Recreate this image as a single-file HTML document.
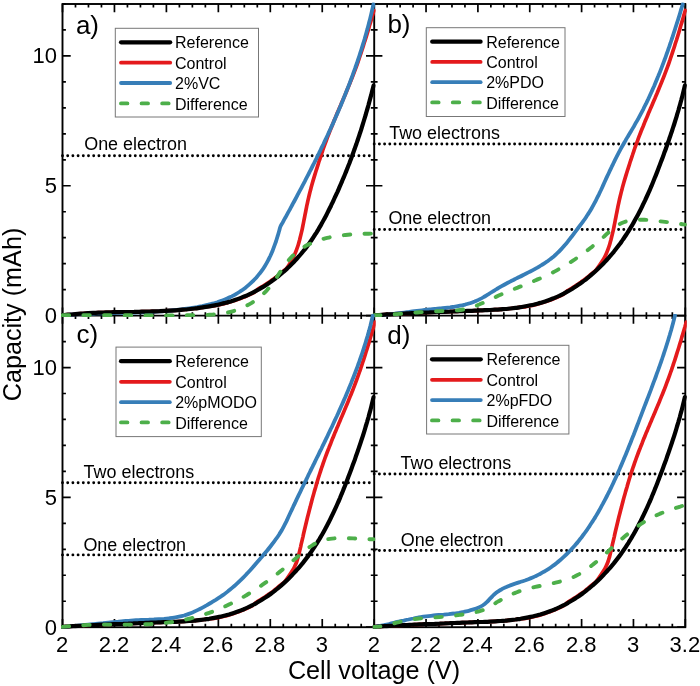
<!DOCTYPE html>
<html><head><meta charset="utf-8"><title>Capacity vs cell voltage</title>
<style>html,body{margin:0;padding:0;background:#fff}svg{display:block;will-change:transform}text{font-family:"Liberation Sans",sans-serif;fill:#000}</style></head><body>
<svg width="700" height="686" viewBox="0 0 700 686">
<rect width="700" height="686" fill="#fff"/>
<defs>
<clipPath id="cpa"><rect x="61.0" y="2.5" width="314.7" height="314.6"/></clipPath>
<clipPath id="cpb"><rect x="372.7" y="2.5" width="314.1" height="314.6"/></clipPath>
<clipPath id="cpc"><rect x="61.0" y="314.1" width="314.7" height="314.6"/></clipPath>
<clipPath id="cpd"><rect x="372.7" y="314.1" width="314.1" height="314.6"/></clipPath>
</defs>
<g stroke="#000" stroke-width="1.9" fill="none" stroke-linecap="square">
<rect x="62.5" y="4.0" width="622.8" height="623.2"/>
<path d="M374.2 4.0V627.2M62.5 315.6H685.3"/>
</g>
<path d="M62.50 4.00v8.20M62.50 315.60v-8.20M75.49 4.00v3.40M75.49 315.60v-3.40M88.47 4.00v3.40M88.47 315.60v-3.40M101.46 4.00v3.40M101.46 315.60v-3.40M114.45 4.00v8.20M114.45 315.60v-8.20M127.44 4.00v3.40M127.44 315.60v-3.40M140.43 4.00v3.40M140.43 315.60v-3.40M153.41 4.00v3.40M153.41 315.60v-3.40M166.40 4.00v8.20M166.40 315.60v-8.20M179.39 4.00v3.40M179.39 315.60v-3.40M192.38 4.00v3.40M192.38 315.60v-3.40M205.36 4.00v3.40M205.36 315.60v-3.40M218.35 4.00v8.20M218.35 315.60v-8.20M231.34 4.00v3.40M231.34 315.60v-3.40M244.32 4.00v3.40M244.32 315.60v-3.40M257.31 4.00v3.40M257.31 315.60v-3.40M270.30 4.00v8.20M270.30 315.60v-8.20M283.29 4.00v3.40M283.29 315.60v-3.40M296.27 4.00v3.40M296.27 315.60v-3.40M309.26 4.00v3.40M309.26 315.60v-3.40M322.25 4.00v8.20M322.25 315.60v-8.20M335.24 4.00v3.40M335.24 315.60v-3.40M348.22 4.00v3.40M348.22 315.60v-3.40M361.21 4.00v3.40M361.21 315.60v-3.40M374.20 4.00v8.20M374.20 315.60v-8.20M62.50 315.60h8.20M374.20 315.60h-8.20M62.50 289.63h3.40M374.20 289.63h-3.40M62.50 263.67h3.40M374.20 263.67h-3.40M62.50 237.70h3.40M374.20 237.70h-3.40M62.50 211.73h3.40M374.20 211.73h-3.40M62.50 185.77h8.20M374.20 185.77h-8.20M62.50 159.80h3.40M374.20 159.80h-3.40M62.50 133.83h3.40M374.20 133.83h-3.40M62.50 107.87h3.40M374.20 107.87h-3.40M62.50 81.90h3.40M374.20 81.90h-3.40M62.50 55.93h8.20M374.20 55.93h-8.20M62.50 29.97h3.40M374.20 29.97h-3.40M62.50 4.00h3.40M374.20 4.00h-3.40M374.20 4.00v8.20M374.20 315.60v-8.20M387.16 4.00v3.40M387.16 315.60v-3.40M400.12 4.00v3.40M400.12 315.60v-3.40M413.09 4.00v3.40M413.09 315.60v-3.40M426.05 4.00v8.20M426.05 315.60v-8.20M439.01 4.00v3.40M439.01 315.60v-3.40M451.97 4.00v3.40M451.97 315.60v-3.40M464.94 4.00v3.40M464.94 315.60v-3.40M477.90 4.00v8.20M477.90 315.60v-8.20M490.86 4.00v3.40M490.86 315.60v-3.40M503.82 4.00v3.40M503.82 315.60v-3.40M516.79 4.00v3.40M516.79 315.60v-3.40M529.75 4.00v8.20M529.75 315.60v-8.20M542.71 4.00v3.40M542.71 315.60v-3.40M555.67 4.00v3.40M555.67 315.60v-3.40M568.64 4.00v3.40M568.64 315.60v-3.40M581.60 4.00v8.20M581.60 315.60v-8.20M594.56 4.00v3.40M594.56 315.60v-3.40M607.52 4.00v3.40M607.52 315.60v-3.40M620.49 4.00v3.40M620.49 315.60v-3.40M633.45 4.00v8.20M633.45 315.60v-8.20M646.41 4.00v3.40M646.41 315.60v-3.40M659.38 4.00v3.40M659.38 315.60v-3.40M672.34 4.00v3.40M672.34 315.60v-3.40M685.30 4.00v8.20M685.30 315.60v-8.20M374.20 315.60h8.20M685.30 315.60h-8.20M374.20 289.63h3.40M685.30 289.63h-3.40M374.20 263.67h3.40M685.30 263.67h-3.40M374.20 237.70h3.40M685.30 237.70h-3.40M374.20 211.73h3.40M685.30 211.73h-3.40M374.20 185.77h8.20M685.30 185.77h-8.20M374.20 159.80h3.40M685.30 159.80h-3.40M374.20 133.83h3.40M685.30 133.83h-3.40M374.20 107.87h3.40M685.30 107.87h-3.40M374.20 81.90h3.40M685.30 81.90h-3.40M374.20 55.93h8.20M685.30 55.93h-8.20M374.20 29.97h3.40M685.30 29.97h-3.40M374.20 4.00h3.40M685.30 4.00h-3.40M62.50 315.60v8.20M62.50 627.20v-8.20M75.49 315.60v3.40M75.49 627.20v-3.40M88.47 315.60v3.40M88.47 627.20v-3.40M101.46 315.60v3.40M101.46 627.20v-3.40M114.45 315.60v8.20M114.45 627.20v-8.20M127.44 315.60v3.40M127.44 627.20v-3.40M140.43 315.60v3.40M140.43 627.20v-3.40M153.41 315.60v3.40M153.41 627.20v-3.40M166.40 315.60v8.20M166.40 627.20v-8.20M179.39 315.60v3.40M179.39 627.20v-3.40M192.38 315.60v3.40M192.38 627.20v-3.40M205.36 315.60v3.40M205.36 627.20v-3.40M218.35 315.60v8.20M218.35 627.20v-8.20M231.34 315.60v3.40M231.34 627.20v-3.40M244.32 315.60v3.40M244.32 627.20v-3.40M257.31 315.60v3.40M257.31 627.20v-3.40M270.30 315.60v8.20M270.30 627.20v-8.20M283.29 315.60v3.40M283.29 627.20v-3.40M296.27 315.60v3.40M296.27 627.20v-3.40M309.26 315.60v3.40M309.26 627.20v-3.40M322.25 315.60v8.20M322.25 627.20v-8.20M335.24 315.60v3.40M335.24 627.20v-3.40M348.22 315.60v3.40M348.22 627.20v-3.40M361.21 315.60v3.40M361.21 627.20v-3.40M374.20 315.60v8.20M374.20 627.20v-8.20M62.50 627.20h8.20M374.20 627.20h-8.20M62.50 601.23h3.40M374.20 601.23h-3.40M62.50 575.27h3.40M374.20 575.27h-3.40M62.50 549.30h3.40M374.20 549.30h-3.40M62.50 523.33h3.40M374.20 523.33h-3.40M62.50 497.37h8.20M374.20 497.37h-8.20M62.50 471.40h3.40M374.20 471.40h-3.40M62.50 445.43h3.40M374.20 445.43h-3.40M62.50 419.47h3.40M374.20 419.47h-3.40M62.50 393.50h3.40M374.20 393.50h-3.40M62.50 367.53h8.20M374.20 367.53h-8.20M62.50 341.57h3.40M374.20 341.57h-3.40M62.50 315.60h3.40M374.20 315.60h-3.40M374.20 315.60v8.20M374.20 627.20v-8.20M387.16 315.60v3.40M387.16 627.20v-3.40M400.12 315.60v3.40M400.12 627.20v-3.40M413.09 315.60v3.40M413.09 627.20v-3.40M426.05 315.60v8.20M426.05 627.20v-8.20M439.01 315.60v3.40M439.01 627.20v-3.40M451.97 315.60v3.40M451.97 627.20v-3.40M464.94 315.60v3.40M464.94 627.20v-3.40M477.90 315.60v8.20M477.90 627.20v-8.20M490.86 315.60v3.40M490.86 627.20v-3.40M503.82 315.60v3.40M503.82 627.20v-3.40M516.79 315.60v3.40M516.79 627.20v-3.40M529.75 315.60v8.20M529.75 627.20v-8.20M542.71 315.60v3.40M542.71 627.20v-3.40M555.67 315.60v3.40M555.67 627.20v-3.40M568.64 315.60v3.40M568.64 627.20v-3.40M581.60 315.60v8.20M581.60 627.20v-8.20M594.56 315.60v3.40M594.56 627.20v-3.40M607.52 315.60v3.40M607.52 627.20v-3.40M620.49 315.60v3.40M620.49 627.20v-3.40M633.45 315.60v8.20M633.45 627.20v-8.20M646.41 315.60v3.40M646.41 627.20v-3.40M659.38 315.60v3.40M659.38 627.20v-3.40M672.34 315.60v3.40M672.34 627.20v-3.40M685.30 315.60v8.20M685.30 627.20v-8.20M374.20 627.20h8.20M685.30 627.20h-8.20M374.20 601.23h3.40M685.30 601.23h-3.40M374.20 575.27h3.40M685.30 575.27h-3.40M374.20 549.30h3.40M685.30 549.30h-3.40M374.20 523.33h3.40M685.30 523.33h-3.40M374.20 497.37h8.20M685.30 497.37h-8.20M374.20 471.40h3.40M685.30 471.40h-3.40M374.20 445.43h3.40M685.30 445.43h-3.40M374.20 419.47h3.40M685.30 419.47h-3.40M374.20 393.50h3.40M685.30 393.50h-3.40M374.20 367.53h8.20M685.30 367.53h-8.20M374.20 341.57h3.40M685.30 341.57h-3.40M374.20 315.60h3.40M685.30 315.60h-3.40" stroke="#000" stroke-width="1.7" fill="none"/>
<path d="M62.5 155.7H370.7" stroke="#000" stroke-width="2.9" stroke-linecap="round" stroke-dasharray="0 5.2" fill="none"/>
<path d="M374.2 144.0H681.8" stroke="#000" stroke-width="2.9" stroke-linecap="round" stroke-dasharray="0 5.2" fill="none"/>
<path d="M374.2 229.5H681.8" stroke="#000" stroke-width="2.9" stroke-linecap="round" stroke-dasharray="0 5.2" fill="none"/>
<path d="M62.5 482.7H370.7" stroke="#000" stroke-width="2.9" stroke-linecap="round" stroke-dasharray="0 5.2" fill="none"/>
<path d="M62.5 554.9H370.7" stroke="#000" stroke-width="2.9" stroke-linecap="round" stroke-dasharray="0 5.2" fill="none"/>
<path d="M374.2 474.0H681.8" stroke="#000" stroke-width="2.9" stroke-linecap="round" stroke-dasharray="0 5.2" fill="none"/>
<path d="M374.2 550.5H681.8" stroke="#000" stroke-width="2.9" stroke-linecap="round" stroke-dasharray="0 5.2" fill="none"/>
<g clip-path="url(#cpa)" fill="none" stroke-linejoin="round" stroke-linecap="round">
<path d="M62.7 315.3C63.5 315.2 66.1 314.9 67.8 314.7C69.4 314.6 71.1 314.4 72.8 314.3C74.5 314.1 76.2 314.0 77.9 313.8C79.6 313.7 81.3 313.6 83.0 313.5C84.7 313.4 86.4 313.3 88.1 313.2C89.8 313.1 91.5 313.0 93.2 312.9C94.9 312.8 96.6 312.8 98.3 312.7C100.0 312.6 101.7 312.6 103.4 312.5C105.1 312.5 106.8 312.4 108.5 312.4C110.2 312.3 111.9 312.3 113.6 312.2C115.3 312.2 117.0 312.2 118.7 312.1C120.4 312.1 122.1 312.1 123.9 312.0C125.6 312.0 127.3 312.0 129.0 312.0C130.7 311.9 132.4 311.9 134.1 311.9C135.8 311.8 137.5 311.8 139.2 311.8C141.0 311.7 142.7 311.7 144.4 311.6C146.1 311.6 147.8 311.6 149.5 311.5C151.2 311.5 152.9 311.4 154.6 311.4C156.3 311.3 158.0 311.2 159.7 311.2C161.5 311.1 163.2 311.0 164.9 310.9C166.6 310.8 168.3 310.7 170.0 310.6C171.7 310.5 173.4 310.4 175.1 310.3C176.8 310.2 178.5 310.1 180.2 309.9C181.9 309.8 183.6 309.6 185.3 309.5C187.0 309.3 188.7 309.2 190.4 309.0C192.1 308.8 193.8 308.6 195.5 308.4C197.2 308.2 198.9 307.9 200.6 307.7C202.3 307.5 204.0 307.2 205.7 306.9C207.3 306.7 209.0 306.3 210.7 306.1C212.4 305.8 214.1 305.8 215.8 305.5C217.4 305.3 219.1 304.8 220.8 304.5C222.4 304.1 224.1 303.7 225.7 303.2C227.4 302.8 229.0 302.3 230.7 301.8C232.3 301.4 233.9 300.8 235.5 300.3C237.1 299.8 238.7 299.2 240.3 298.6C241.9 298.0 243.5 297.3 245.0 296.7C246.6 296.0 248.1 295.3 249.7 294.6C251.2 293.9 252.7 293.3 254.2 292.4C255.7 291.4 257.2 289.7 258.7 288.6C260.1 287.6 261.6 286.9 263.1 286.1C264.5 285.2 265.9 284.3 267.3 283.3C268.8 282.4 270.2 281.4 271.5 280.4C272.9 279.5 274.3 278.5 275.6 277.4C277.0 276.4 278.3 275.3 279.6 274.3C281.0 273.2 282.3 272.1 283.5 271.0C284.8 269.8 285.9 269.5 287.3 267.5C288.8 265.6 291.1 261.3 292.3 259.1C293.5 256.9 293.9 256.1 294.6 254.5C295.3 252.9 295.9 251.4 296.5 249.8C297.1 248.2 297.7 246.6 298.2 245.0C298.7 243.3 299.1 241.7 299.6 240.0C300.0 238.4 300.4 236.7 300.8 235.1C301.2 233.4 301.6 231.8 302.0 230.1C302.4 228.4 302.7 226.7 303.0 225.1C303.4 223.4 303.7 221.7 304.0 220.0C304.4 218.3 304.7 216.6 305.0 214.9C305.4 213.2 305.7 211.6 306.0 209.9C306.3 208.2 306.7 206.5 307.0 204.8C307.4 203.1 307.7 201.5 308.1 199.8C308.5 198.1 308.9 196.4 309.3 194.8C309.7 193.1 310.1 191.4 310.6 189.8C311.0 188.1 311.4 186.5 311.9 184.8C312.4 183.2 312.8 181.5 313.3 179.9C313.8 178.2 314.3 176.6 314.8 174.9C315.3 173.3 315.8 171.7 316.3 170.0C316.8 168.4 317.4 166.7 317.9 165.1C318.4 163.5 318.9 161.8 319.5 160.2C320.0 158.6 320.5 157.0 321.1 155.3C321.6 153.7 322.2 152.1 322.7 150.4C323.3 148.8 323.8 147.2 324.4 145.6C325.0 144.0 325.6 142.4 326.2 140.8C326.8 139.1 327.4 137.5 328.0 135.9C328.6 134.3 329.2 132.7 329.8 131.2C330.5 129.6 331.1 128.0 331.8 126.4C332.4 124.8 333.1 123.2 333.7 121.6C334.4 120.0 335.0 118.5 335.7 116.9C336.4 115.3 337.0 113.7 337.7 112.1C338.4 110.6 339.0 109.0 339.7 107.4C340.4 105.8 341.1 104.2 341.7 102.7C342.4 101.1 343.1 99.5 343.8 97.9C344.4 96.4 345.1 94.8 345.8 93.2C346.4 91.6 347.1 90.0 347.7 88.5C348.4 86.9 349.1 85.3 349.7 83.7C350.4 82.1 351.0 80.5 351.6 78.9C352.3 77.3 352.9 75.7 353.5 74.1C354.1 72.5 354.7 70.9 355.3 69.3C355.9 67.7 356.5 66.1 357.1 64.5C357.7 62.9 358.2 61.3 358.8 59.6C359.3 58.0 359.9 56.4 360.4 54.8C361.0 53.1 361.5 51.5 362.0 49.9C362.6 48.3 363.1 46.6 363.6 45.0C364.1 43.4 364.6 41.7 365.2 40.1C365.7 38.4 366.2 36.8 366.7 35.2C367.2 33.5 367.7 31.9 368.2 30.2C368.7 28.6 369.1 26.9 369.6 25.3C370.1 23.7 370.6 22.0 371.1 20.4C371.6 18.7 372.1 17.1 372.5 15.4C373.0 13.8 373.8 11.3 374.0 10.5" stroke="#e41a1c" stroke-width="3.7"/>
<path d="M62.7 315.3C63.6 315.2 66.2 315.0 67.9 314.9C69.6 314.7 71.3 314.6 73.1 314.5C74.8 314.4 76.5 314.3 78.2 314.2C80.0 314.1 81.7 314.0 83.4 313.9C85.1 313.8 86.9 313.8 88.6 313.7C90.3 313.6 92.0 313.6 93.8 313.5C95.5 313.5 97.2 313.4 99.0 313.4C100.7 313.3 102.4 313.3 104.1 313.2C105.9 313.2 107.6 313.1 109.3 313.1C111.0 313.1 112.8 313.0 114.5 313.0C116.2 313.0 117.9 312.9 119.7 312.9C121.4 312.9 123.1 312.8 124.8 312.8C126.6 312.8 128.3 312.7 130.0 312.7C131.7 312.6 133.5 312.6 135.2 312.5C136.9 312.5 138.6 312.4 140.4 312.4C142.1 312.3 143.8 312.3 145.5 312.2C147.3 312.1 149.0 312.1 150.7 312.0C152.4 311.9 154.1 311.8 155.9 311.7C157.6 311.6 159.3 311.5 161.0 311.4C162.8 311.3 164.5 311.1 166.2 311.0C167.9 310.8 169.6 310.7 171.4 310.5C173.1 310.4 174.8 310.2 176.5 310.0C178.2 309.8 180.0 309.6 181.7 309.4C183.4 309.2 185.1 309.0 186.8 308.7C188.5 308.5 190.3 308.2 192.0 307.9C193.7 307.7 195.4 307.4 197.1 307.1C198.8 306.7 200.5 306.4 202.2 306.1C204.0 305.7 205.7 305.3 207.4 304.9C209.0 304.5 210.7 304.1 212.4 303.6C214.1 303.2 215.7 302.7 217.4 302.2C219.0 301.6 220.7 301.1 222.3 300.5C223.9 299.9 225.5 299.2 227.1 298.5C228.7 297.9 230.2 297.1 231.7 296.4C233.3 295.6 234.8 294.8 236.3 293.9C237.7 293.1 239.2 292.1 240.6 291.2C242.1 290.2 243.5 289.2 244.8 288.2C246.2 287.1 247.5 286.1 248.8 284.9C250.1 283.8 251.4 282.6 252.6 281.4C253.8 280.2 255.0 279.0 256.2 277.7C257.3 276.4 258.4 275.1 259.5 273.7C260.6 272.4 261.6 271.0 262.6 269.6C263.6 268.2 264.5 266.7 265.4 265.2C266.3 263.8 267.2 262.2 268.0 260.7C268.8 259.2 269.5 257.6 270.3 256.0C271.0 254.5 271.7 252.9 272.4 251.3C273.0 249.6 273.6 248.0 274.2 246.4C274.8 244.8 275.4 243.1 276.0 241.5C276.5 239.8 277.0 238.1 277.5 236.5C278.1 234.8 278.5 233.2 279.0 231.5C279.5 229.9 279.8 228.2 280.4 226.6C281.0 225.0 282.1 223.6 282.9 222.1C283.7 220.6 284.5 219.1 285.4 217.6C286.2 216.1 287.0 214.6 287.8 213.1C288.6 211.6 289.5 210.1 290.3 208.6C291.1 207.1 291.9 205.5 292.7 204.0C293.6 202.5 294.4 201.0 295.2 199.5C296.0 198.0 296.8 196.5 297.6 194.9C298.4 193.4 299.2 191.9 300.0 190.4C300.8 188.9 301.6 187.4 302.4 185.8C303.2 184.3 304.0 182.8 304.8 181.3C305.6 179.7 306.4 178.2 307.2 176.7C308.0 175.2 308.8 173.6 309.5 172.1C310.3 170.6 311.1 169.0 311.9 167.5C312.7 166.0 313.4 164.4 314.2 162.9C315.0 161.3 315.7 159.8 316.5 158.3C317.3 156.7 318.0 155.2 318.8 153.6C319.5 152.1 320.3 150.5 321.0 149.0C321.8 147.4 322.5 145.9 323.3 144.3C324.0 142.8 324.7 141.2 325.5 139.7C326.2 138.1 326.9 136.6 327.7 135.0C328.4 133.5 329.1 131.9 329.8 130.3C330.5 128.8 331.3 127.2 332.0 125.6C332.7 124.1 333.4 122.5 334.1 120.9C334.8 119.4 335.5 117.8 336.1 116.2C336.8 114.6 337.5 113.1 338.2 111.5C338.9 109.9 339.5 108.3 340.2 106.7C340.9 105.2 341.5 103.6 342.2 102.0C342.8 100.4 343.5 98.8 344.1 97.2C344.8 95.6 345.4 94.0 346.0 92.4C346.7 90.9 347.3 89.3 347.9 87.7C348.6 86.1 349.2 84.5 349.8 82.9C350.4 81.2 351.0 79.6 351.6 78.0C352.2 76.4 352.8 74.8 353.3 73.2C353.9 71.6 354.5 70.0 355.1 68.4C355.6 66.7 356.2 65.1 356.8 63.5C357.3 61.9 357.9 60.2 358.4 58.6C359.0 57.0 359.5 55.4 360.0 53.7C360.5 52.1 361.1 50.5 361.6 48.8C362.1 47.2 362.6 45.6 363.1 43.9C363.6 42.3 364.1 40.6 364.6 39.0C365.0 37.3 365.5 35.7 366.0 34.0C366.5 32.4 366.9 30.7 367.4 29.1C367.8 27.4 368.3 25.7 368.7 24.1C369.1 22.4 369.6 20.8 370.0 19.1C370.4 17.4 370.8 15.7 371.2 14.1C371.6 12.4 372.0 10.7 372.4 9.0C372.8 7.4 373.3 4.8 373.5 4.0" stroke="#377eb8" stroke-width="3.8"/>
<path d="M62.7 315.3C63.5 315.2 66.1 314.9 67.8 314.7C69.4 314.6 71.1 314.4 72.8 314.3C74.5 314.1 76.2 314.0 77.9 313.8C79.6 313.7 81.3 313.6 83.0 313.5C84.7 313.4 86.4 313.3 88.1 313.2C89.8 313.1 91.5 313.0 93.2 312.9C94.9 312.8 96.6 312.8 98.3 312.7C100.0 312.6 101.7 312.6 103.4 312.5C105.1 312.5 106.8 312.4 108.5 312.4C110.2 312.3 111.9 312.3 113.6 312.2C115.3 312.2 117.0 312.2 118.7 312.1C120.4 312.1 122.1 312.1 123.9 312.0C125.6 312.0 127.3 312.0 129.0 312.0C130.7 311.9 132.4 311.9 134.1 311.9C135.8 311.8 137.5 311.8 139.2 311.8C141.0 311.7 142.7 311.7 144.4 311.6C146.1 311.6 147.8 311.6 149.5 311.5C151.2 311.5 152.9 311.4 154.6 311.4C156.3 311.3 158.0 311.2 159.7 311.2C161.5 311.1 163.2 311.0 164.9 310.9C166.6 310.8 168.3 310.7 170.0 310.6C171.7 310.5 173.4 310.4 175.1 310.3C176.8 310.2 178.5 310.1 180.2 309.9C181.9 309.8 183.6 309.6 185.3 309.5C187.0 309.3 188.7 309.2 190.4 309.0C192.1 308.8 193.8 308.6 195.5 308.4C197.2 308.2 198.9 307.9 200.6 307.7C202.3 307.5 204.0 307.2 205.7 306.9C207.3 306.7 209.0 306.4 210.7 306.1C212.4 305.8 214.1 305.4 215.8 305.1C217.4 304.8 219.1 304.4 220.8 304.0C222.4 303.6 224.1 303.2 225.7 302.8C227.4 302.3 229.0 301.9 230.7 301.4C232.3 300.9 233.9 300.4 235.5 299.8C237.1 299.3 238.7 298.7 240.3 298.1C241.9 297.5 243.5 296.9 245.0 296.2C246.6 295.6 248.1 294.9 249.7 294.1C251.2 293.4 252.7 292.7 254.2 291.9C255.7 291.1 257.2 290.3 258.7 289.5C260.1 288.7 261.6 287.8 263.1 286.9C264.5 286.0 265.9 285.1 267.3 284.2C268.8 283.2 270.2 282.3 271.5 281.3C272.9 280.3 274.3 279.3 275.6 278.3C277.0 277.2 278.3 276.2 279.6 275.1C281.0 274.0 282.3 272.9 283.5 271.8C284.8 270.7 286.1 269.6 287.3 268.4C288.6 267.2 289.8 266.1 291.0 264.8C292.2 263.6 293.4 262.4 294.6 261.2C295.8 259.9 296.9 258.7 298.0 257.4C299.2 256.1 300.3 254.8 301.4 253.5C302.5 252.2 303.5 250.9 304.6 249.6C305.7 248.2 306.7 246.9 307.7 245.5C308.7 244.1 309.7 242.7 310.7 241.3C311.6 239.9 312.6 238.5 313.5 237.1C314.5 235.7 315.4 234.2 316.3 232.8C317.2 231.3 318.1 229.9 318.9 228.4C319.8 226.9 320.7 225.4 321.5 223.9C322.3 222.5 323.2 221.0 324.0 219.4C324.8 217.9 325.6 216.4 326.4 214.9C327.2 213.4 327.9 211.9 328.7 210.3C329.5 208.8 330.2 207.3 331.0 205.7C331.7 204.2 332.5 202.6 333.2 201.1C333.9 199.5 334.6 198.0 335.3 196.4C336.1 194.9 336.8 193.3 337.5 191.8C338.2 190.2 338.9 188.6 339.5 187.1C340.2 185.5 340.9 183.9 341.6 182.4C342.2 180.8 342.9 179.2 343.6 177.7C344.2 176.1 344.9 174.5 345.5 173.0C346.1 171.4 346.8 169.8 347.4 168.2C348.0 166.6 348.6 165.1 349.3 163.5C349.9 161.9 350.5 160.3 351.1 158.7C351.7 157.1 352.3 155.5 352.8 153.9C353.4 152.3 354.0 150.7 354.6 149.1C355.1 147.5 355.7 145.9 356.3 144.3C356.8 142.7 357.4 141.1 357.9 139.5C358.4 137.9 359.0 136.3 359.5 134.6C360.0 133.0 360.6 131.4 361.1 129.8C361.6 128.2 362.1 126.6 362.6 124.9C363.1 123.3 363.6 121.7 364.1 120.0C364.6 118.4 365.1 116.8 365.6 115.2C366.0 113.5 366.5 111.9 367.0 110.2C367.5 108.6 367.9 107.0 368.4 105.3C368.8 103.7 369.3 102.0 369.7 100.4C370.2 98.7 370.6 97.1 371.1 95.4C371.5 93.8 371.9 92.1 372.3 90.5C372.8 88.8 373.4 86.3 373.6 85.5" stroke="#000" stroke-width="4.2"/>
<path d="M62.7 315.3C63.6 315.3 66.2 315.2 67.9 315.2C69.7 315.2 71.4 315.2 73.1 315.1C74.9 315.1 76.6 315.1 78.3 315.1C80.1 315.1 81.8 315.1 83.5 315.1C85.2 315.1 87.0 315.1 88.7 315.1C90.4 315.1 92.1 315.1 93.8 315.1C95.5 315.1 97.2 315.1 99.0 315.1C100.7 315.1 102.4 315.1 104.1 315.1C105.8 315.1 107.5 315.1 109.2 315.1C110.9 315.1 112.6 315.1 114.3 315.1C116.0 315.2 117.7 315.2 119.4 315.2C121.1 315.2 122.8 315.2 124.5 315.2C126.2 315.2 127.9 315.3 129.6 315.3C131.3 315.3 133.0 315.3 134.7 315.3C136.5 315.3 138.2 315.3 139.9 315.4C141.6 315.4 143.3 315.4 145.0 315.4C146.7 315.4 148.4 315.4 150.1 315.4C151.8 315.4 153.5 315.4 155.2 315.4C156.9 315.4 158.6 315.5 160.3 315.5C162.0 315.5 163.7 315.5 165.4 315.5C167.1 315.5 168.9 315.5 170.6 315.5C172.3 315.4 174.0 315.4 175.7 315.4C177.4 315.4 179.2 315.4 180.9 315.4C182.6 315.4 184.3 315.4 186.1 315.3C187.8 315.3 189.5 315.3 191.3 315.3C193.0 315.2 194.7 315.2 196.5 315.2C198.2 315.1 199.9 315.1 201.7 315.0C203.4 315.0 205.2 314.9 206.9 314.9C208.7 314.8 210.4 314.7 212.2 314.6C213.9 314.5 215.6 314.3 217.4 314.2C219.1 314.0 220.8 313.8 222.5 313.5C224.2 313.2 225.9 312.9 227.6 312.6C229.3 312.2 230.9 311.8 232.6 311.3C234.2 310.8 235.9 310.3 237.5 309.7C239.1 309.1 240.6 308.5 242.2 307.8C243.8 307.1 245.3 306.4 246.8 305.6C248.3 304.8 249.8 304.0 251.3 303.1C252.7 302.2 254.1 301.3 255.5 300.3C256.9 299.4 258.2 298.3 259.6 297.2C260.9 296.2 262.1 295.0 263.4 293.9C264.6 292.7 265.8 291.5 267.0 290.2C268.1 289.0 269.2 287.7 270.3 286.3C271.4 285.0 272.4 283.6 273.4 282.2C274.4 280.8 275.4 279.3 276.3 277.9C277.3 276.4 278.3 275.0 279.2 273.5C280.2 272.1 281.1 270.6 282.1 269.2C283.1 267.7 284.1 266.3 285.1 264.9C286.1 263.5 287.1 262.1 288.2 260.8C289.3 259.5 290.4 258.2 291.6 257.0C292.8 255.7 294.0 254.6 295.3 253.4C296.6 252.3 297.9 251.2 299.3 250.2C300.6 249.2 302.0 248.2 303.5 247.3C304.9 246.4 306.4 245.6 307.9 244.8C309.4 244.0 310.9 243.3 312.5 242.6C314.1 242.0 315.7 241.3 317.3 240.8C318.9 240.2 320.5 239.7 322.2 239.2C323.9 238.7 325.5 238.3 327.2 237.9C328.9 237.5 330.6 237.1 332.4 236.8C334.1 236.5 335.8 236.2 337.5 235.9C339.3 235.7 341.0 235.5 342.8 235.3C344.5 235.1 346.3 234.9 348.0 234.7C349.8 234.6 351.5 234.5 353.2 234.3C355.0 234.2 356.7 234.1 358.4 234.0C360.1 234.0 361.9 233.9 363.6 233.8C365.2 233.8 366.9 233.7 368.6 233.7C370.2 233.6 372.7 233.5 373.5 233.5" stroke="#4daf4a" stroke-width="3.9" stroke-dasharray="6.4 14.29"/>
</g>
<g clip-path="url(#cpb)" fill="none" stroke-linejoin="round" stroke-linecap="round">
<path d="M374.0 315.3C374.8 315.2 377.4 315.1 379.1 315.0C380.8 314.9 382.5 314.7 384.2 314.6C385.9 314.5 387.5 314.4 389.2 314.3C390.9 314.2 392.6 314.1 394.3 314.1C396.0 314.0 397.7 313.9 399.3 313.8C401.0 313.7 402.7 313.6 404.4 313.5C406.1 313.4 407.7 313.4 409.4 313.3C411.1 313.2 412.8 313.1 414.5 313.0C416.1 313.0 417.8 312.9 419.5 312.8C421.2 312.7 422.8 312.7 424.5 312.6C426.2 312.5 427.9 312.4 429.5 312.4C431.2 312.3 432.9 312.2 434.6 312.2C436.3 312.1 437.9 312.0 439.6 312.0C441.3 311.9 443.0 311.8 444.6 311.8C446.3 311.7 448.0 311.6 449.7 311.6C451.3 311.5 453.0 311.5 454.7 311.4C456.4 311.3 458.1 311.3 459.7 311.2C461.4 311.1 463.1 311.1 464.8 311.0C466.5 310.9 468.2 310.9 469.8 310.8C471.5 310.8 473.2 310.7 474.9 310.6C476.6 310.6 478.3 310.5 480.0 310.4C481.7 310.4 483.4 310.3 485.0 310.2C486.7 310.2 488.4 310.1 490.1 310.0C491.8 309.9 493.5 309.8 495.2 309.7C496.9 309.6 498.6 309.5 500.3 309.4C502.0 309.3 503.7 309.1 505.4 309.0C507.0 308.8 508.7 308.7 510.4 308.5C512.1 308.3 513.8 308.1 515.5 307.9C517.2 307.7 518.8 307.3 520.5 307.2C522.2 307.0 523.9 307.0 525.5 306.8C527.2 306.5 528.8 306.1 530.5 305.8C532.2 305.4 533.8 305.0 535.4 304.6C537.1 304.2 538.7 303.8 540.3 303.3C541.9 302.8 543.5 302.3 545.1 301.8C546.7 301.3 548.3 300.7 549.9 300.2C551.5 299.6 553.0 299.0 554.6 298.3C556.1 297.7 557.6 297.0 559.2 296.3C560.7 295.6 562.2 295.0 563.7 294.1C565.1 293.1 566.6 291.4 568.1 290.4C569.5 289.3 571.0 288.7 572.4 287.8C573.8 286.9 575.2 286.0 576.6 285.1C578.0 284.2 579.4 283.2 580.8 282.3C582.2 281.3 583.5 280.3 584.9 279.3C586.2 278.2 587.5 277.2 588.8 276.1C590.1 275.1 591.4 274.0 592.7 272.9C594.0 271.7 594.6 271.8 596.5 269.5C598.3 267.2 602.0 261.6 603.6 259.1C605.2 256.6 605.2 256.1 605.9 254.5C606.6 252.9 607.2 251.4 607.8 249.8C608.4 248.2 609.0 246.6 609.5 245.0C610.0 243.3 610.4 241.7 610.9 240.0C611.3 238.4 611.7 236.7 612.1 235.1C612.5 233.4 612.9 231.8 613.3 230.1C613.7 228.4 614.0 226.7 614.3 225.1C614.7 223.4 615.0 221.7 615.3 220.0C615.7 218.3 616.0 216.6 616.3 214.9C616.7 213.2 617.0 211.6 617.3 209.9C617.6 208.2 618.0 206.5 618.3 204.8C618.7 203.1 619.0 201.5 619.4 199.8C619.8 198.1 620.2 196.4 620.6 194.8C621.0 193.1 621.4 191.4 621.9 189.8C622.3 188.1 622.7 186.5 623.2 184.8C623.7 183.2 624.1 181.5 624.6 179.9C625.1 178.2 625.6 176.6 626.1 174.9C626.6 173.3 627.1 171.7 627.6 170.0C628.1 168.4 628.7 166.7 629.2 165.1C629.7 163.5 630.2 161.8 630.8 160.2C631.3 158.6 631.8 157.0 632.4 155.3C632.9 153.7 633.5 152.1 634.0 150.4C634.6 148.8 635.1 147.2 635.7 145.6C636.3 144.0 636.9 142.4 637.5 140.8C638.1 139.1 638.7 137.5 639.3 135.9C639.9 134.3 640.5 132.7 641.1 131.2C641.8 129.6 642.4 128.0 643.1 126.4C643.7 124.8 644.4 123.2 645.0 121.6C645.7 120.0 646.3 118.5 647.0 116.9C647.7 115.3 648.3 113.7 649.0 112.1C649.7 110.6 650.3 109.0 651.0 107.4C651.7 105.8 652.4 104.2 653.0 102.7C653.7 101.1 654.4 99.5 655.1 97.9C655.7 96.4 656.4 94.8 657.1 93.2C657.7 91.6 658.4 90.0 659.0 88.5C659.7 86.9 660.4 85.3 661.0 83.7C661.7 82.1 662.3 80.5 662.9 78.9C663.6 77.3 664.2 75.7 664.8 74.1C665.4 72.5 666.0 70.9 666.6 69.3C667.2 67.7 667.8 66.1 668.4 64.5C669.0 62.9 669.5 61.3 670.1 59.6C670.6 58.0 671.2 56.4 671.7 54.8C672.3 53.1 672.8 51.5 673.3 49.9C673.9 48.3 674.4 46.6 674.9 45.0C675.4 43.4 675.9 41.7 676.5 40.1C677.0 38.4 677.5 36.8 678.0 35.2C678.5 33.5 679.0 31.9 679.5 30.2C680.0 28.6 680.4 26.9 680.9 25.3C681.4 23.7 681.9 22.0 682.4 20.4C682.9 18.7 683.4 17.1 683.8 15.4C684.3 13.8 685.1 11.3 685.3 10.5" stroke="#e41a1c" stroke-width="3.7"/>
<path d="M374.0 315.3C374.9 315.3 377.4 315.2 379.1 315.1C380.8 315.0 382.5 314.9 384.2 314.8C385.9 314.7 387.6 314.5 389.3 314.4C391.0 314.2 392.7 314.0 394.3 313.8C396.0 313.6 397.7 313.4 399.4 313.2C401.1 313.0 402.7 312.8 404.4 312.6C406.1 312.4 407.8 312.1 409.4 311.9C411.1 311.7 412.8 311.5 414.5 311.2C416.1 311.0 417.8 310.8 419.5 310.6C421.2 310.4 422.9 310.2 424.6 310.0C426.3 309.8 428.0 309.7 429.7 309.5C431.4 309.3 433.1 309.2 434.8 309.0C436.5 308.8 438.2 308.7 439.9 308.5C441.7 308.3 443.4 308.2 445.1 308.0C446.8 307.8 448.5 307.6 450.2 307.4C451.9 307.1 453.5 306.9 455.2 306.6C456.9 306.4 458.6 306.1 460.2 305.7C461.9 305.4 463.5 305.0 465.1 304.6C466.8 304.1 468.4 303.7 470.0 303.2C471.6 302.7 473.2 302.1 474.7 301.5C476.3 300.8 477.8 300.2 479.4 299.4C480.9 298.7 482.4 297.9 483.8 297.0C485.3 296.2 486.7 295.3 488.2 294.4C489.6 293.5 491.0 292.6 492.5 291.7C493.9 290.8 495.4 289.9 496.8 289.0C498.3 288.1 499.7 287.3 501.2 286.4C502.7 285.6 504.2 284.8 505.6 284.0C507.1 283.2 508.6 282.4 510.1 281.6C511.7 280.8 513.2 280.1 514.7 279.3C516.2 278.5 517.7 277.8 519.3 277.0C520.8 276.3 522.3 275.5 523.8 274.7C525.4 274.0 526.9 273.2 528.4 272.4C529.9 271.7 531.4 270.9 532.9 270.1C534.4 269.3 535.9 268.4 537.4 267.6C538.8 266.7 540.3 265.9 541.7 265.0C543.2 264.1 544.6 263.2 546.0 262.2C547.4 261.3 548.7 260.3 550.1 259.3C551.4 258.3 552.7 257.2 554.0 256.2C555.3 255.1 556.5 253.9 557.8 252.7C559.0 251.6 560.2 250.3 561.3 249.1C562.5 247.9 563.6 246.6 564.7 245.3C565.9 244.0 567.0 242.6 568.0 241.3C569.1 240.0 570.2 238.6 571.2 237.2C572.3 235.9 573.3 234.5 574.3 233.1C575.4 231.7 576.4 230.4 577.4 229.0C578.5 227.6 579.5 226.3 580.5 224.9C581.5 223.6 582.5 222.2 583.5 220.8C584.5 219.5 585.5 218.1 586.4 216.7C587.3 215.3 588.3 213.9 589.1 212.5C590.0 211.1 590.9 209.6 591.7 208.2C592.6 206.7 593.4 205.2 594.2 203.7C595.0 202.2 595.8 200.7 596.5 199.2C597.3 197.7 598.0 196.2 598.8 194.6C599.5 193.1 600.2 191.6 601.0 190.0C601.7 188.5 602.4 186.9 603.1 185.4C603.8 183.8 604.5 182.3 605.2 180.7C605.9 179.2 606.6 177.6 607.3 176.1C608.1 174.5 608.8 173.0 609.5 171.4C610.2 169.9 610.9 168.4 611.7 166.8C612.4 165.3 613.2 163.8 613.9 162.3C614.7 160.7 615.4 159.2 616.2 157.7C617.0 156.2 617.7 154.7 618.5 153.2C619.3 151.7 620.1 150.2 620.9 148.7C621.7 147.2 622.6 145.7 623.4 144.3C624.2 142.8 625.1 141.3 625.9 139.8C626.8 138.4 627.6 136.9 628.5 135.4C629.4 134.0 630.2 132.5 631.1 131.1C632.0 129.6 632.8 128.1 633.7 126.7C634.6 125.2 635.4 123.7 636.2 122.2C637.1 120.8 637.9 119.3 638.7 117.8C639.5 116.3 640.3 114.8 641.1 113.3C641.9 111.8 642.7 110.3 643.5 108.8C644.2 107.3 645.0 105.7 645.8 104.2C646.5 102.7 647.2 101.2 648.0 99.6C648.7 98.1 649.4 96.6 650.1 95.0C650.8 93.5 651.5 91.9 652.2 90.4C652.9 88.8 653.6 87.3 654.3 85.7C654.9 84.2 655.6 82.6 656.2 81.0C656.9 79.5 657.5 77.9 658.2 76.3C658.8 74.8 659.5 73.2 660.1 71.6C660.7 70.0 661.3 68.4 661.9 66.9C662.5 65.3 663.1 63.7 663.7 62.1C664.3 60.5 664.9 58.9 665.5 57.3C666.1 55.7 666.6 54.1 667.2 52.5C667.8 50.9 668.3 49.3 668.9 47.7C669.4 46.1 670.0 44.5 670.5 42.9C671.1 41.3 671.6 39.7 672.2 38.0C672.7 36.4 673.2 34.8 673.7 33.2C674.3 31.6 674.8 30.0 675.3 28.3C675.8 26.7 676.3 25.1 676.8 23.5C677.4 21.9 677.9 20.2 678.4 18.6C678.9 17.0 679.4 15.4 679.9 13.7C680.4 12.1 680.8 10.5 681.3 8.9C681.8 7.3 682.6 4.8 682.8 4.0" stroke="#377eb8" stroke-width="3.8"/>
<path d="M374.0 315.3C374.8 315.2 377.4 315.1 379.1 315.0C380.8 314.9 382.5 314.7 384.2 314.6C385.9 314.5 387.5 314.4 389.2 314.3C390.9 314.2 392.6 314.1 394.3 314.1C396.0 314.0 397.7 313.9 399.3 313.8C401.0 313.7 402.7 313.6 404.4 313.5C406.1 313.4 407.7 313.4 409.4 313.3C411.1 313.2 412.8 313.1 414.5 313.0C416.1 313.0 417.8 312.9 419.5 312.8C421.2 312.7 422.8 312.7 424.5 312.6C426.2 312.5 427.9 312.4 429.5 312.4C431.2 312.3 432.9 312.2 434.6 312.2C436.3 312.1 437.9 312.0 439.6 312.0C441.3 311.9 443.0 311.8 444.6 311.8C446.3 311.7 448.0 311.6 449.7 311.6C451.3 311.5 453.0 311.5 454.7 311.4C456.4 311.3 458.1 311.3 459.7 311.2C461.4 311.1 463.1 311.1 464.8 311.0C466.5 310.9 468.2 310.9 469.8 310.8C471.5 310.8 473.2 310.7 474.9 310.6C476.6 310.6 478.3 310.5 480.0 310.4C481.7 310.4 483.4 310.3 485.0 310.2C486.7 310.2 488.4 310.1 490.1 310.0C491.8 309.9 493.5 309.8 495.2 309.7C496.9 309.6 498.6 309.5 500.3 309.4C502.0 309.3 503.7 309.1 505.4 309.0C507.0 308.8 508.7 308.7 510.4 308.5C512.1 308.3 513.8 308.1 515.5 307.9C517.2 307.7 518.8 307.4 520.5 307.2C522.2 306.9 523.9 306.6 525.5 306.3C527.2 306.0 528.8 305.7 530.5 305.3C532.2 305.0 533.8 304.6 535.4 304.2C537.1 303.8 538.7 303.3 540.3 302.9C541.9 302.4 543.5 301.9 545.1 301.4C546.7 300.9 548.3 300.3 549.9 299.7C551.5 299.1 553.0 298.5 554.6 297.9C556.1 297.2 557.6 296.5 559.2 295.8C560.7 295.1 562.2 294.4 563.7 293.6C565.1 292.8 566.6 292.0 568.1 291.2C569.5 290.4 571.0 289.5 572.4 288.7C573.8 287.8 575.2 286.9 576.6 286.0C578.0 285.0 579.4 284.1 580.8 283.1C582.2 282.1 583.5 281.1 584.9 280.1C586.2 279.1 587.5 278.0 588.8 277.0C590.1 275.9 591.4 274.8 592.7 273.7C594.0 272.6 595.2 271.5 596.5 270.3C597.7 269.2 598.9 268.0 600.1 266.8C601.3 265.6 602.5 264.4 603.7 263.2C604.9 262.0 606.0 260.7 607.2 259.5C608.3 258.2 609.4 257.0 610.5 255.7C611.6 254.4 612.7 253.1 613.8 251.8C614.8 250.5 615.9 249.1 616.9 247.8C617.9 246.5 619.0 245.1 620.0 243.8C621.0 242.4 621.9 241.0 622.9 239.6C623.8 238.3 624.8 236.9 625.7 235.5C626.6 234.1 627.6 232.6 628.5 231.2C629.3 229.8 630.2 228.4 631.1 226.9C632.0 225.5 632.8 224.0 633.6 222.6C634.5 221.1 635.3 219.6 636.1 218.1C636.9 216.7 637.7 215.2 638.5 213.7C639.3 212.2 640.0 210.7 640.8 209.2C641.6 207.7 642.3 206.2 643.0 204.6C643.8 203.1 644.5 201.6 645.2 200.1C645.9 198.5 646.6 197.0 647.3 195.5C648.0 193.9 648.7 192.4 649.4 190.8C650.1 189.3 650.7 187.7 651.4 186.2C652.0 184.6 652.7 183.0 653.3 181.5C654.0 179.9 654.6 178.3 655.2 176.8C655.9 175.2 656.5 173.6 657.1 172.1C657.7 170.5 658.3 168.9 658.9 167.3C659.5 165.7 660.1 164.2 660.7 162.6C661.3 161.0 661.9 159.4 662.5 157.9C663.1 156.3 663.7 154.7 664.2 153.1C664.8 151.5 665.4 149.9 666.0 148.4C666.5 146.8 667.1 145.2 667.6 143.6C668.2 142.0 668.8 140.4 669.3 138.8C669.8 137.3 670.4 135.7 670.9 134.1C671.5 132.5 672.0 130.9 672.5 129.3C673.0 127.7 673.6 126.1 674.1 124.5C674.6 122.9 675.1 121.3 675.6 119.7C676.1 118.1 676.6 116.5 677.0 114.9C677.5 113.3 678.0 111.7 678.5 110.0C678.9 108.4 679.4 106.8 679.9 105.2C680.3 103.5 680.7 101.9 681.2 100.3C681.6 98.7 682.1 97.0 682.5 95.4C682.9 93.7 683.3 92.1 683.7 90.5C684.1 88.8 684.7 86.3 684.9 85.5" stroke="#000" stroke-width="4.2"/>
<path d="M374.0 315.3C374.9 315.3 377.4 315.2 379.1 315.2C380.9 315.1 382.6 315.0 384.3 314.9C386.0 314.9 387.6 314.8 389.3 314.6C391.0 314.5 392.7 314.4 394.4 314.3C396.1 314.2 397.8 314.1 399.4 313.9C401.1 313.8 402.8 313.7 404.5 313.5C406.1 313.4 407.8 313.2 409.5 313.1C411.2 313.0 412.8 312.8 414.5 312.7C416.2 312.5 417.9 312.4 419.6 312.3C421.2 312.2 422.9 312.0 424.6 311.9C426.3 311.8 428.0 311.7 429.7 311.6C431.4 311.5 433.1 311.4 434.8 311.3C436.5 311.2 438.2 311.2 439.9 311.1C441.7 311.1 443.4 311.0 445.1 311.0C446.8 310.9 448.6 310.9 450.3 310.8C452.0 310.8 453.7 310.7 455.4 310.5C457.2 310.4 458.8 310.2 460.5 310.0C462.2 309.7 463.9 309.4 465.5 309.1C467.1 308.7 468.7 308.3 470.3 307.8C471.9 307.3 473.5 306.7 475.1 306.1C476.6 305.6 478.2 304.9 479.7 304.3C481.3 303.6 482.8 302.9 484.4 302.2C485.9 301.5 487.4 300.8 489.0 300.1C490.5 299.3 492.0 298.6 493.6 297.9C495.1 297.2 496.7 296.5 498.2 295.8C499.8 295.1 501.3 294.4 502.9 293.7C504.5 293.0 506.0 292.4 507.6 291.7C509.2 291.1 510.8 290.4 512.3 289.8C513.9 289.1 515.5 288.5 517.1 287.9C518.6 287.2 520.2 286.6 521.8 286.0C523.4 285.3 525.0 284.7 526.5 284.0C528.1 283.4 529.7 282.8 531.3 282.1C532.8 281.5 534.4 280.8 536.0 280.2C537.5 279.5 539.1 278.8 540.6 278.1C542.2 277.4 543.7 276.8 545.3 276.0C546.8 275.3 548.3 274.6 549.8 273.9C551.4 273.1 552.9 272.4 554.4 271.6C555.9 270.8 557.4 270.0 558.8 269.2C560.3 268.4 561.8 267.5 563.2 266.7C564.7 265.8 566.1 265.0 567.6 264.1C569.0 263.2 570.4 262.3 571.8 261.4C573.3 260.4 574.7 259.5 576.1 258.5C577.5 257.6 578.8 256.6 580.2 255.6C581.6 254.7 583.0 253.7 584.3 252.6C585.7 251.6 587.0 250.6 588.4 249.6C589.7 248.5 591.1 247.5 592.4 246.4C593.7 245.3 595.0 244.3 596.3 243.2C597.6 242.1 598.9 241.0 600.2 239.9C601.5 238.8 602.8 237.6 604.1 236.5C605.3 235.4 606.6 234.2 607.9 233.1C609.1 231.9 610.4 230.8 611.7 229.7C612.9 228.6 614.2 227.5 615.6 226.6C617.0 225.6 618.4 224.7 619.8 224.0C621.3 223.2 622.8 222.6 624.4 222.0C625.9 221.5 627.5 221.1 629.2 220.7C630.8 220.4 632.5 220.1 634.2 220.0C635.8 219.8 637.6 219.7 639.3 219.7C641.0 219.7 642.7 219.7 644.5 219.8C646.2 219.9 648.0 220.0 649.7 220.1C651.5 220.3 653.2 220.5 654.9 220.7C656.7 220.9 658.4 221.1 660.1 221.3C661.8 221.5 663.5 221.7 665.1 221.9C666.8 222.1 668.5 222.2 670.1 222.4C671.8 222.6 673.4 222.8 675.0 223.1C676.7 223.3 678.4 223.5 680.0 223.8C681.7 224.0 684.3 224.5 685.1 224.6" stroke="#4daf4a" stroke-width="3.9" stroke-dasharray="6.4 14.33"/>
</g>
<g clip-path="url(#cpc)" fill="none" stroke-linejoin="round" stroke-linecap="round">
<path d="M62.7 626.9C63.5 626.8 66.1 626.7 67.8 626.6C69.5 626.5 71.2 626.3 72.9 626.2C74.6 626.1 76.2 626.0 77.9 625.9C79.6 625.8 81.3 625.7 83.0 625.7C84.7 625.6 86.4 625.5 88.0 625.4C89.7 625.3 91.4 625.2 93.1 625.1C94.8 625.0 96.4 625.0 98.1 624.9C99.8 624.8 101.5 624.7 103.2 624.6C104.8 624.6 106.5 624.5 108.2 624.4C109.9 624.3 111.5 624.3 113.2 624.2C114.9 624.1 116.6 624.0 118.2 624.0C119.9 623.9 121.6 623.8 123.3 623.8C125.0 623.7 126.6 623.6 128.3 623.6C130.0 623.5 131.7 623.4 133.3 623.4C135.0 623.3 136.7 623.2 138.4 623.2C140.0 623.1 141.7 623.1 143.4 623.0C145.1 622.9 146.8 622.9 148.4 622.8C150.1 622.7 151.8 622.7 153.5 622.6C155.2 622.5 156.9 622.5 158.5 622.4C160.2 622.4 161.9 622.3 163.6 622.2C165.3 622.2 167.0 622.1 168.7 622.0C170.4 622.0 172.1 621.9 173.7 621.8C175.4 621.8 177.1 621.7 178.8 621.6C180.5 621.5 182.2 621.4 183.9 621.3C185.6 621.2 187.3 621.1 189.0 621.0C190.7 620.9 192.4 620.7 194.1 620.6C195.7 620.4 197.4 620.3 199.1 620.1C200.8 619.9 202.5 619.7 204.2 619.5C205.9 619.3 207.5 618.9 209.2 618.8C210.9 618.6 212.6 618.6 214.2 618.4C215.9 618.1 217.5 617.7 219.2 617.4C220.9 617.0 222.5 616.6 224.1 616.2C225.8 615.8 227.4 615.4 229.0 614.9C230.6 614.4 232.2 613.9 233.8 613.4C235.4 612.9 237.0 612.3 238.6 611.8C240.2 611.2 241.7 610.6 243.3 609.9C244.8 609.3 246.3 608.6 247.9 607.9C249.4 607.2 250.9 606.6 252.4 605.7C253.8 604.7 255.3 603.0 256.8 602.0C258.2 600.9 259.7 600.3 261.1 599.4C262.5 598.5 263.9 597.6 265.3 596.7C266.7 595.8 268.1 594.8 269.5 593.9C270.9 592.9 272.2 591.9 273.6 590.9C274.9 589.8 276.2 588.8 277.5 587.7C278.8 586.7 280.1 585.6 281.4 584.5C282.7 583.3 283.3 583.4 285.2 581.1C287.0 578.8 290.7 573.2 292.3 570.7C293.9 568.2 294.1 567.7 294.8 566.2C295.6 564.7 296.2 563.1 296.8 561.5C297.3 559.9 297.8 558.2 298.3 556.6C298.7 555.0 299.1 553.3 299.5 551.6C299.9 549.9 300.3 548.3 300.7 546.6C301.0 544.9 301.4 543.2 301.8 541.6C302.2 539.9 302.6 538.2 303.0 536.6C303.3 534.9 303.7 533.2 304.1 531.5C304.5 529.9 304.9 528.2 305.3 526.5C305.7 524.9 306.1 523.2 306.5 521.5C306.9 519.9 307.3 518.2 307.7 516.5C308.1 514.9 308.6 513.2 309.0 511.5C309.4 509.9 309.8 508.2 310.3 506.6C310.7 504.9 311.1 503.2 311.6 501.6C312.0 499.9 312.5 498.3 312.9 496.6C313.4 494.9 313.9 493.3 314.3 491.6C314.8 490.0 315.3 488.3 315.8 486.7C316.2 485.0 316.7 483.4 317.2 481.7C317.7 480.1 318.2 478.5 318.7 476.8C319.3 475.2 319.8 473.5 320.3 471.9C320.8 470.3 321.4 468.6 321.9 467.0C322.5 465.4 323.0 463.8 323.6 462.1C324.2 460.5 324.8 458.9 325.3 457.3C325.9 455.7 326.5 454.1 327.1 452.5C327.7 450.9 328.3 449.3 329.0 447.7C329.6 446.1 330.2 444.5 330.9 442.9C331.5 441.3 332.1 439.7 332.8 438.1C333.4 436.5 334.1 434.9 334.7 433.3C335.4 431.8 336.1 430.2 336.7 428.6C337.4 427.0 338.1 425.4 338.7 423.8C339.4 422.3 340.1 420.7 340.7 419.1C341.4 417.5 342.1 415.9 342.7 414.4C343.4 412.8 344.1 411.2 344.7 409.6C345.4 408.0 346.1 406.5 346.7 404.9C347.4 403.3 348.1 401.7 348.7 400.1C349.4 398.5 350.0 396.9 350.6 395.4C351.3 393.8 351.9 392.2 352.6 390.6C353.2 389.0 353.8 387.4 354.4 385.8C355.0 384.2 355.6 382.6 356.2 381.0C356.8 379.4 357.4 377.7 358.0 376.1C358.6 374.5 359.2 372.9 359.7 371.3C360.3 369.7 360.8 368.0 361.4 366.4C361.9 364.8 362.5 363.1 363.0 361.5C363.5 359.9 364.1 358.2 364.6 356.6C365.1 355.0 365.6 353.3 366.1 351.7C366.7 350.1 367.2 348.4 367.7 346.8C368.2 345.1 368.7 343.5 369.2 341.9C369.7 340.2 370.2 338.6 370.6 336.9C371.1 335.3 371.6 333.6 372.1 332.0C372.6 330.3 373.1 328.7 373.6 327.0C374.0 325.4 374.8 322.9 375.0 322.1" stroke="#e41a1c" stroke-width="3.7"/>
<path d="M62.7 627.0C63.6 626.9 66.1 626.8 67.8 626.6C69.5 626.5 71.2 626.3 72.9 626.2C74.6 626.0 76.3 625.9 78.0 625.7C79.6 625.6 81.3 625.4 83.0 625.2C84.7 625.1 86.4 624.9 88.1 624.7C89.7 624.6 91.4 624.4 93.1 624.2C94.8 624.0 96.5 623.9 98.1 623.7C99.8 623.5 101.5 623.3 103.2 623.2C104.8 623.0 106.5 622.8 108.2 622.6C109.9 622.5 111.6 622.3 113.2 622.1C114.9 622.0 116.6 621.8 118.3 621.7C120.0 621.5 121.6 621.3 123.3 621.2C125.0 621.1 126.7 620.9 128.4 620.8C130.1 620.7 131.8 620.5 133.5 620.4C135.2 620.3 136.8 620.2 138.5 620.1C140.2 620.0 141.9 620.0 143.7 619.9C145.4 619.8 147.1 619.7 148.8 619.7C150.5 619.6 152.2 619.5 153.9 619.5C155.6 619.4 157.3 619.3 159.0 619.2C160.7 619.1 162.4 619.0 164.1 618.9C165.8 618.7 167.5 618.5 169.2 618.3C170.8 618.1 172.5 617.9 174.2 617.6C175.8 617.4 177.5 617.1 179.1 616.7C180.7 616.3 182.4 615.9 184.0 615.5C185.6 615.0 187.2 614.5 188.8 613.9C190.3 613.4 191.9 612.8 193.4 612.1C195.0 611.4 196.5 610.7 198.0 609.9C199.5 609.2 201.0 608.4 202.5 607.6C204.0 606.8 205.5 605.9 207.0 605.1C208.4 604.2 209.9 603.3 211.4 602.5C212.9 601.6 214.3 600.7 215.8 599.8C217.2 598.9 218.6 598.0 220.0 597.1C221.5 596.2 222.8 595.2 224.2 594.2C225.6 593.2 226.9 592.2 228.2 591.1C229.5 590.1 230.8 589.0 232.1 587.9C233.4 586.8 234.7 585.7 235.9 584.6C237.1 583.5 238.4 582.3 239.6 581.1C240.8 580.0 242.0 578.8 243.2 577.6C244.4 576.4 245.5 575.2 246.7 573.9C247.9 572.7 249.0 571.5 250.2 570.2C251.3 569.0 252.4 567.7 253.6 566.4C254.7 565.2 255.8 563.9 256.9 562.6C258.0 561.3 259.1 560.0 260.2 558.7C261.4 557.4 262.5 556.1 263.5 554.8C264.6 553.5 265.7 552.2 266.8 550.9C267.9 549.6 269.0 548.3 270.0 547.0C271.1 545.6 272.1 544.3 273.1 542.9C274.2 541.6 275.2 540.2 276.1 538.8C277.1 537.5 278.1 536.1 279.0 534.7C279.9 533.2 280.8 531.8 281.7 530.4C282.5 528.9 283.3 527.4 284.1 525.9C284.9 524.4 285.6 522.9 286.4 521.4C287.1 519.9 287.8 518.3 288.5 516.8C289.2 515.3 289.9 513.7 290.6 512.2C291.4 510.6 292.1 509.1 292.8 507.6C293.5 506.0 294.2 504.5 295.0 503.0C295.7 501.4 296.4 499.9 297.1 498.4C297.9 496.9 298.6 495.3 299.3 493.8C300.1 492.3 300.8 490.8 301.5 489.2C302.3 487.7 303.0 486.2 303.7 484.7C304.5 483.1 305.2 481.6 306.0 480.1C306.7 478.6 307.5 477.1 308.2 475.5C308.9 474.0 309.7 472.5 310.4 471.0C311.2 469.5 311.9 467.9 312.7 466.4C313.4 464.9 314.2 463.4 314.9 461.9C315.7 460.3 316.4 458.8 317.1 457.3C317.9 455.8 318.6 454.3 319.4 452.7C320.1 451.2 320.9 449.7 321.6 448.2C322.3 446.6 323.1 445.1 323.8 443.6C324.6 442.1 325.3 440.5 326.0 439.0C326.8 437.5 327.5 436.0 328.2 434.4C329.0 432.9 329.7 431.4 330.4 429.8C331.1 428.3 331.9 426.8 332.6 425.2C333.3 423.7 334.0 422.2 334.7 420.6C335.4 419.1 336.1 417.6 336.9 416.0C337.6 414.5 338.3 412.9 339.0 411.4C339.7 409.9 340.3 408.3 341.0 406.8C341.7 405.2 342.4 403.7 343.1 402.1C343.8 400.6 344.4 399.0 345.1 397.5C345.8 395.9 346.4 394.4 347.1 392.8C347.8 391.3 348.4 389.7 349.0 388.1C349.7 386.6 350.3 385.0 351.0 383.4C351.6 381.9 352.2 380.3 352.8 378.7C353.5 377.2 354.1 375.6 354.7 374.0C355.3 372.4 355.9 370.8 356.5 369.3C357.1 367.7 357.7 366.1 358.2 364.5C358.8 362.9 359.4 361.3 359.9 359.7C360.5 358.1 361.1 356.5 361.6 354.9C362.1 353.3 362.7 351.7 363.2 350.1C363.7 348.5 364.2 346.9 364.7 345.3C365.3 343.7 365.8 342.0 366.2 340.4C366.7 338.8 367.2 337.2 367.7 335.5C368.1 333.9 368.6 332.3 369.1 330.6C369.5 329.0 369.9 327.4 370.4 325.7C370.8 324.1 371.2 322.4 371.6 320.8C372.0 319.1 372.6 316.6 372.8 315.8" stroke="#377eb8" stroke-width="3.8"/>
<path d="M62.7 626.9C63.5 626.8 66.1 626.7 67.8 626.6C69.5 626.5 71.2 626.3 72.9 626.2C74.6 626.1 76.2 626.0 77.9 625.9C79.6 625.8 81.3 625.7 83.0 625.7C84.7 625.6 86.4 625.5 88.0 625.4C89.7 625.3 91.4 625.2 93.1 625.1C94.8 625.0 96.4 625.0 98.1 624.9C99.8 624.8 101.5 624.7 103.2 624.6C104.8 624.6 106.5 624.5 108.2 624.4C109.9 624.3 111.5 624.3 113.2 624.2C114.9 624.1 116.6 624.0 118.2 624.0C119.9 623.9 121.6 623.8 123.3 623.8C125.0 623.7 126.6 623.6 128.3 623.6C130.0 623.5 131.7 623.4 133.3 623.4C135.0 623.3 136.7 623.2 138.4 623.2C140.0 623.1 141.7 623.1 143.4 623.0C145.1 622.9 146.8 622.9 148.4 622.8C150.1 622.7 151.8 622.7 153.5 622.6C155.2 622.5 156.9 622.5 158.5 622.4C160.2 622.4 161.9 622.3 163.6 622.2C165.3 622.2 167.0 622.1 168.7 622.0C170.4 622.0 172.1 621.9 173.7 621.8C175.4 621.8 177.1 621.7 178.8 621.6C180.5 621.5 182.2 621.4 183.9 621.3C185.6 621.2 187.3 621.1 189.0 621.0C190.7 620.9 192.4 620.7 194.1 620.6C195.7 620.4 197.4 620.3 199.1 620.1C200.8 619.9 202.5 619.7 204.2 619.5C205.9 619.3 207.5 619.0 209.2 618.8C210.9 618.5 212.6 618.2 214.2 617.9C215.9 617.6 217.5 617.3 219.2 616.9C220.9 616.6 222.5 616.2 224.1 615.8C225.8 615.4 227.4 614.9 229.0 614.5C230.6 614.0 232.2 613.5 233.8 613.0C235.4 612.5 237.0 611.9 238.6 611.3C240.2 610.7 241.7 610.1 243.3 609.5C244.8 608.8 246.3 608.1 247.9 607.4C249.4 606.7 250.9 606.0 252.4 605.2C253.8 604.4 255.3 603.6 256.8 602.8C258.2 602.0 259.7 601.1 261.1 600.3C262.5 599.4 263.9 598.5 265.3 597.6C266.7 596.6 268.1 595.7 269.5 594.7C270.9 593.7 272.2 592.7 273.6 591.7C274.9 590.7 276.2 589.6 277.5 588.6C278.8 587.5 280.1 586.4 281.4 585.3C282.7 584.2 283.9 583.1 285.2 581.9C286.4 580.8 287.6 579.6 288.8 578.4C290.0 577.2 291.2 576.0 292.4 574.8C293.6 573.6 294.7 572.3 295.9 571.1C297.0 569.8 298.1 568.6 299.2 567.3C300.3 566.0 301.4 564.7 302.5 563.4C303.5 562.1 304.6 560.7 305.6 559.4C306.6 558.1 307.7 556.7 308.7 555.4C309.7 554.0 310.6 552.6 311.6 551.2C312.5 549.9 313.5 548.5 314.4 547.1C315.3 545.7 316.3 544.2 317.2 542.8C318.0 541.4 318.9 540.0 319.8 538.5C320.7 537.1 321.5 535.6 322.3 534.2C323.2 532.7 324.0 531.2 324.8 529.7C325.6 528.3 326.4 526.8 327.2 525.3C328.0 523.8 328.7 522.3 329.5 520.8C330.3 519.3 331.0 517.8 331.7 516.2C332.5 514.7 333.2 513.2 333.9 511.7C334.6 510.1 335.3 508.6 336.0 507.1C336.7 505.5 337.4 504.0 338.1 502.4C338.8 500.9 339.4 499.3 340.1 497.8C340.7 496.2 341.4 494.6 342.0 493.1C342.7 491.5 343.3 489.9 343.9 488.4C344.6 486.8 345.2 485.2 345.8 483.7C346.4 482.1 347.0 480.5 347.6 478.9C348.2 477.3 348.8 475.8 349.4 474.2C350.0 472.6 350.6 471.0 351.2 469.5C351.8 467.9 352.4 466.3 352.9 464.7C353.5 463.1 354.1 461.5 354.7 460.0C355.2 458.4 355.8 456.8 356.3 455.2C356.9 453.6 357.5 452.0 358.0 450.4C358.5 448.9 359.1 447.3 359.6 445.7C360.2 444.1 360.7 442.5 361.2 440.9C361.7 439.3 362.3 437.7 362.8 436.1C363.3 434.5 363.8 432.9 364.3 431.3C364.8 429.7 365.3 428.1 365.7 426.5C366.2 424.9 366.7 423.3 367.2 421.6C367.6 420.0 368.1 418.4 368.6 416.8C369.0 415.1 369.4 413.5 369.9 411.9C370.3 410.3 370.8 408.6 371.2 407.0C371.6 405.3 372.0 403.7 372.4 402.1C372.8 400.4 373.4 397.9 373.6 397.1" stroke="#000" stroke-width="4.2"/>
<path d="M62.7 627.0C63.5 626.9 66.1 626.6 67.8 626.4C69.5 626.2 71.2 626.0 72.9 625.9C74.6 625.7 76.3 625.6 78.0 625.5C79.7 625.3 81.4 625.2 83.1 625.2C84.9 625.1 86.6 625.0 88.3 624.9C90.0 624.9 91.7 624.8 93.4 624.8C95.1 624.7 96.9 624.7 98.6 624.7C100.3 624.7 102.0 624.7 103.7 624.6C105.5 624.6 107.2 624.6 108.9 624.6C110.6 624.6 112.3 624.6 114.1 624.6C115.8 624.6 117.5 624.6 119.2 624.6C120.9 624.6 122.7 624.7 124.4 624.6C126.1 624.6 127.8 624.6 129.5 624.6C131.3 624.6 133.0 624.6 134.7 624.6C136.4 624.6 138.1 624.5 139.8 624.5C141.6 624.4 143.3 624.4 145.0 624.3C146.7 624.3 148.4 624.2 150.1 624.1C151.8 624.0 153.6 623.9 155.3 623.8C157.0 623.7 158.7 623.5 160.4 623.4C162.1 623.2 163.8 623.1 165.5 622.9C167.2 622.7 168.9 622.5 170.6 622.2C172.3 622.0 174.0 621.7 175.7 621.4C177.4 621.2 179.1 620.9 180.8 620.5C182.4 620.2 184.1 619.9 185.8 619.5C187.5 619.1 189.1 618.8 190.8 618.3C192.5 617.9 194.1 617.5 195.8 617.1C197.4 616.6 199.1 616.1 200.7 615.6C202.4 615.1 204.0 614.6 205.6 614.1C207.3 613.5 208.9 613.0 210.5 612.4C212.1 611.8 213.7 611.2 215.3 610.6C216.9 609.9 218.5 609.3 220.1 608.6C221.7 607.9 223.2 607.2 224.8 606.5C226.3 605.8 227.9 605.1 229.4 604.3C231.0 603.6 232.5 602.8 234.0 602.0C235.6 601.2 237.1 600.4 238.6 599.6C240.1 598.8 241.6 598.0 243.1 597.1C244.6 596.2 246.1 595.4 247.5 594.5C249.0 593.6 250.5 592.7 251.9 591.8C253.4 590.9 254.8 589.9 256.2 589.0C257.7 588.1 259.1 587.1 260.5 586.1C261.9 585.2 263.3 584.2 264.7 583.2C266.1 582.2 267.5 581.2 268.9 580.2C270.2 579.2 271.6 578.2 273.0 577.1C274.3 576.1 275.7 575.0 277.0 574.0C278.4 572.9 279.7 571.9 281.0 570.8C282.4 569.7 283.7 568.6 285.0 567.5C286.4 566.4 287.7 565.3 289.0 564.2C290.3 563.1 291.6 562.0 292.9 560.8C294.2 559.7 295.5 558.5 296.8 557.4C298.1 556.3 299.4 555.1 300.7 554.0C302.1 552.9 303.4 551.7 304.7 550.7C306.1 549.6 307.4 548.6 308.8 547.6C310.2 546.6 311.6 545.7 313.0 544.8C314.5 544.0 315.9 543.2 317.4 542.5C318.9 541.8 320.5 541.2 322.1 540.6C323.7 540.1 325.3 539.7 326.9 539.4C328.6 539.0 330.3 538.8 332.0 538.6C333.7 538.4 335.4 538.2 337.2 538.2C338.9 538.1 340.7 538.1 342.5 538.1C344.3 538.1 346.0 538.1 347.8 538.2C349.6 538.2 351.4 538.3 353.2 538.4C354.9 538.5 356.7 538.7 358.4 538.8C360.2 538.9 361.9 539.0 363.6 539.1C365.3 539.2 367.0 539.2 368.7 539.3C370.3 539.3 372.7 539.3 373.5 539.3" stroke="#4daf4a" stroke-width="3.9" stroke-dasharray="6.4 14.25"/>
</g>
<g clip-path="url(#cpd)" fill="none" stroke-linejoin="round" stroke-linecap="round">
<path d="M374.0 626.9C374.8 626.8 377.4 626.7 379.1 626.6C380.8 626.5 382.5 626.3 384.2 626.2C385.9 626.1 387.5 626.0 389.2 625.9C390.9 625.8 392.6 625.7 394.3 625.7C396.0 625.6 397.7 625.5 399.3 625.4C401.0 625.3 402.7 625.2 404.4 625.1C406.1 625.0 407.7 625.0 409.4 624.9C411.1 624.8 412.8 624.7 414.5 624.6C416.1 624.6 417.8 624.5 419.5 624.4C421.2 624.3 422.8 624.3 424.5 624.2C426.2 624.1 427.9 624.0 429.5 624.0C431.2 623.9 432.9 623.8 434.6 623.8C436.3 623.7 437.9 623.6 439.6 623.6C441.3 623.5 443.0 623.4 444.6 623.4C446.3 623.3 448.0 623.2 449.7 623.2C451.3 623.1 453.0 623.1 454.7 623.0C456.4 622.9 458.1 622.9 459.7 622.8C461.4 622.7 463.1 622.7 464.8 622.6C466.5 622.5 468.2 622.5 469.8 622.4C471.5 622.4 473.2 622.3 474.9 622.2C476.6 622.2 478.3 622.1 480.0 622.0C481.7 622.0 483.4 621.9 485.0 621.8C486.7 621.8 488.4 621.7 490.1 621.6C491.8 621.5 493.5 621.4 495.2 621.3C496.9 621.2 498.6 621.1 500.3 621.0C502.0 620.9 503.7 620.7 505.4 620.6C507.0 620.4 508.7 620.3 510.4 620.1C512.1 619.9 513.8 619.7 515.5 619.5C517.2 619.3 518.8 618.9 520.5 618.8C522.2 618.6 523.9 618.6 525.5 618.4C527.2 618.1 528.8 617.7 530.5 617.4C532.2 617.0 533.8 616.6 535.4 616.2C537.1 615.8 538.7 615.4 540.3 614.9C541.9 614.4 543.5 613.9 545.1 613.4C546.7 612.9 548.3 612.3 549.9 611.8C551.5 611.2 553.0 610.6 554.6 609.9C556.1 609.3 557.6 608.6 559.2 607.9C560.7 607.2 562.2 606.6 563.7 605.7C565.1 604.7 566.6 603.0 568.1 602.0C569.5 600.9 571.0 600.3 572.4 599.4C573.8 598.5 575.2 597.6 576.6 596.7C578.0 595.8 579.4 594.8 580.8 593.9C582.2 592.9 583.5 591.9 584.9 590.9C586.2 589.8 587.5 588.8 588.8 587.7C590.1 586.7 591.4 585.6 592.7 584.5C594.0 583.3 594.6 583.4 596.5 581.1C598.3 578.8 602.0 573.2 603.6 570.7C605.2 568.2 605.4 567.7 606.1 566.2C606.9 564.7 607.5 563.1 608.1 561.5C608.6 559.9 609.1 558.2 609.6 556.6C610.0 555.0 610.4 553.3 610.8 551.6C611.2 549.9 611.6 548.3 612.0 546.6C612.3 544.9 612.7 543.2 613.1 541.6C613.5 539.9 613.9 538.2 614.3 536.6C614.6 534.9 615.0 533.2 615.4 531.5C615.8 529.9 616.2 528.2 616.6 526.5C617.0 524.9 617.4 523.2 617.8 521.5C618.2 519.9 618.6 518.2 619.0 516.5C619.4 514.9 619.9 513.2 620.3 511.5C620.7 509.9 621.1 508.2 621.6 506.6C622.0 504.9 622.4 503.2 622.9 501.6C623.3 499.9 623.8 498.3 624.2 496.6C624.7 494.9 625.2 493.3 625.6 491.6C626.1 490.0 626.6 488.3 627.1 486.7C627.5 485.0 628.0 483.4 628.5 481.7C629.0 480.1 629.5 478.5 630.0 476.8C630.6 475.2 631.1 473.5 631.6 471.9C632.1 470.3 632.7 468.6 633.2 467.0C633.8 465.4 634.3 463.8 634.9 462.1C635.5 460.5 636.1 458.9 636.6 457.3C637.2 455.7 637.8 454.1 638.4 452.5C639.0 450.9 639.6 449.3 640.3 447.7C640.9 446.1 641.5 444.5 642.2 442.9C642.8 441.3 643.4 439.7 644.1 438.1C644.7 436.5 645.4 434.9 646.0 433.3C646.7 431.8 647.4 430.2 648.0 428.6C648.7 427.0 649.4 425.4 650.0 423.8C650.7 422.3 651.4 420.7 652.0 419.1C652.7 417.5 653.4 415.9 654.0 414.4C654.7 412.8 655.4 411.2 656.0 409.6C656.7 408.0 657.4 406.5 658.0 404.9C658.7 403.3 659.4 401.7 660.0 400.1C660.7 398.5 661.3 396.9 661.9 395.4C662.6 393.8 663.2 392.2 663.9 390.6C664.5 389.0 665.1 387.4 665.7 385.8C666.3 384.2 666.9 382.6 667.5 381.0C668.1 379.4 668.7 377.7 669.3 376.1C669.9 374.5 670.5 372.9 671.0 371.3C671.6 369.7 672.1 368.0 672.7 366.4C673.2 364.8 673.8 363.1 674.3 361.5C674.8 359.9 675.4 358.2 675.9 356.6C676.4 355.0 676.9 353.3 677.4 351.7C678.0 350.1 678.5 348.4 679.0 346.8C679.5 345.1 680.0 343.5 680.5 341.9C681.0 340.2 681.5 338.6 681.9 336.9C682.4 335.3 682.9 333.6 683.4 332.0C683.9 330.3 684.4 328.7 684.9 327.0C685.3 325.4 686.1 322.9 686.3 322.1" stroke="#e41a1c" stroke-width="3.7"/>
<path d="M374.0 627.0C374.8 626.8 377.3 626.4 379.0 626.1C380.7 625.8 382.3 625.4 384.0 625.1C385.6 624.7 387.3 624.3 388.9 624.0C390.5 623.6 392.2 623.2 393.8 622.8C395.4 622.5 397.1 622.1 398.7 621.7C400.4 621.3 402.0 620.9 403.6 620.6C405.3 620.2 406.9 619.8 408.5 619.5C410.2 619.1 411.8 618.8 413.5 618.5C415.1 618.1 416.8 617.8 418.4 617.5C420.1 617.3 421.8 617.0 423.4 616.7C425.1 616.5 426.8 616.3 428.5 616.1C430.2 615.9 431.8 615.7 433.5 615.5C435.2 615.4 436.9 615.2 438.6 615.0C440.3 614.9 442.0 614.7 443.7 614.6C445.4 614.4 447.1 614.2 448.8 614.1C450.5 613.9 452.2 613.7 453.8 613.5C455.5 613.2 457.2 613.0 458.9 612.8C460.5 612.5 462.2 612.2 463.8 611.9C465.4 611.5 467.1 611.2 468.7 610.8C470.3 610.4 471.9 609.9 473.5 609.4C475.1 608.9 476.7 608.4 478.2 607.7C479.7 607.1 481.2 606.4 482.6 605.5C484.0 604.6 485.3 603.6 486.5 602.4C487.8 601.3 488.9 599.9 490.1 598.7C491.3 597.5 492.4 596.2 493.6 595.0C494.9 593.9 496.2 592.8 497.5 591.8C498.9 590.9 500.3 590.0 501.8 589.2C503.2 588.4 504.7 587.7 506.3 587.0C507.8 586.3 509.4 585.7 511.0 585.1C512.6 584.5 514.2 583.9 515.8 583.4C517.4 582.8 519.1 582.3 520.7 581.8C522.4 581.2 524.0 580.7 525.6 580.2C527.2 579.6 528.8 579.0 530.4 578.4C532.0 577.8 533.6 577.1 535.1 576.4C536.6 575.7 538.2 575.0 539.6 574.2C541.1 573.4 542.6 572.6 544.0 571.7C545.5 570.9 546.9 570.0 548.3 569.1C549.7 568.2 551.1 567.2 552.4 566.2C553.8 565.3 555.1 564.3 556.4 563.2C557.7 562.2 559.0 561.1 560.3 560.0C561.6 558.9 562.8 557.8 564.0 556.7C565.3 555.5 566.5 554.4 567.7 553.2C568.9 552.0 570.0 550.8 571.2 549.6C572.3 548.3 573.4 547.1 574.6 545.8C575.7 544.5 576.8 543.3 577.8 542.0C578.9 540.7 579.9 539.3 581.0 538.0C582.0 536.7 583.0 535.3 584.0 534.0C585.0 532.6 586.0 531.2 587.0 529.9C587.9 528.5 588.9 527.1 589.8 525.7C590.8 524.3 591.7 522.8 592.6 521.4C593.5 520.0 594.4 518.5 595.3 517.1C596.1 515.6 597.0 514.2 597.9 512.7C598.7 511.3 599.6 509.8 600.4 508.3C601.2 506.8 602.0 505.3 602.8 503.9C603.6 502.4 604.4 500.9 605.2 499.4C606.0 497.9 606.8 496.4 607.5 494.9C608.3 493.4 609.0 491.9 609.8 490.3C610.5 488.8 611.3 487.3 612.0 485.8C612.7 484.3 613.4 482.8 614.1 481.2C614.9 479.7 615.6 478.2 616.3 476.6C616.9 475.1 617.6 473.6 618.3 472.0C619.0 470.5 619.7 469.0 620.3 467.4C621.0 465.9 621.7 464.3 622.3 462.8C623.0 461.2 623.6 459.7 624.3 458.1C624.9 456.6 625.6 455.0 626.2 453.5C626.8 451.9 627.5 450.3 628.1 448.8C628.7 447.2 629.3 445.7 630.0 444.1C630.6 442.5 631.2 441.0 631.8 439.4C632.4 437.8 633.0 436.3 633.7 434.7C634.3 433.1 634.9 431.6 635.5 430.0C636.1 428.4 636.7 426.8 637.3 425.3C637.9 423.7 638.5 422.1 639.1 420.6C639.7 419.0 640.3 417.4 640.9 415.8C641.5 414.3 642.1 412.7 642.7 411.1C643.3 409.5 643.9 408.0 644.5 406.4C645.1 404.8 645.7 403.2 646.3 401.7C646.9 400.1 647.6 398.5 648.2 396.9C648.8 395.4 649.4 393.8 650.0 392.2C650.6 390.6 651.2 389.0 651.7 387.5C652.3 385.9 652.9 384.3 653.5 382.7C654.1 381.1 654.7 379.6 655.3 378.0C655.9 376.4 656.4 374.8 657.0 373.2C657.6 371.6 658.2 370.0 658.7 368.5C659.3 366.9 659.9 365.3 660.4 363.7C661.0 362.1 661.5 360.5 662.1 358.9C662.6 357.3 663.2 355.7 663.7 354.1C664.2 352.5 664.8 350.9 665.3 349.3C665.8 347.7 666.3 346.1 666.8 344.5C667.3 342.9 667.8 341.3 668.3 339.7C668.8 338.0 669.3 336.4 669.8 334.8C670.2 333.2 670.7 331.6 671.2 330.0C671.6 328.3 672.1 326.7 672.5 325.1C672.9 323.5 673.4 321.8 673.8 320.2C674.2 318.6 674.8 316.1 675.0 315.3" stroke="#377eb8" stroke-width="3.8"/>
<path d="M374.0 626.9C374.8 626.8 377.4 626.7 379.1 626.6C380.8 626.5 382.5 626.3 384.2 626.2C385.9 626.1 387.5 626.0 389.2 625.9C390.9 625.8 392.6 625.7 394.3 625.7C396.0 625.6 397.7 625.5 399.3 625.4C401.0 625.3 402.7 625.2 404.4 625.1C406.1 625.0 407.7 625.0 409.4 624.9C411.1 624.8 412.8 624.7 414.5 624.6C416.1 624.6 417.8 624.5 419.5 624.4C421.2 624.3 422.8 624.3 424.5 624.2C426.2 624.1 427.9 624.0 429.5 624.0C431.2 623.9 432.9 623.8 434.6 623.8C436.3 623.7 437.9 623.6 439.6 623.6C441.3 623.5 443.0 623.4 444.6 623.4C446.3 623.3 448.0 623.2 449.7 623.2C451.3 623.1 453.0 623.1 454.7 623.0C456.4 622.9 458.1 622.9 459.7 622.8C461.4 622.7 463.1 622.7 464.8 622.6C466.5 622.5 468.2 622.5 469.8 622.4C471.5 622.4 473.2 622.3 474.9 622.2C476.6 622.2 478.3 622.1 480.0 622.0C481.7 622.0 483.4 621.9 485.0 621.8C486.7 621.8 488.4 621.7 490.1 621.6C491.8 621.5 493.5 621.4 495.2 621.3C496.9 621.2 498.6 621.1 500.3 621.0C502.0 620.9 503.7 620.7 505.4 620.6C507.0 620.4 508.7 620.3 510.4 620.1C512.1 619.9 513.8 619.7 515.5 619.5C517.2 619.3 518.8 619.0 520.5 618.8C522.2 618.5 523.9 618.2 525.5 617.9C527.2 617.6 528.8 617.3 530.5 616.9C532.2 616.6 533.8 616.2 535.4 615.8C537.1 615.4 538.7 614.9 540.3 614.5C541.9 614.0 543.5 613.5 545.1 613.0C546.7 612.5 548.3 611.9 549.9 611.3C551.5 610.7 553.0 610.1 554.6 609.5C556.1 608.8 557.6 608.1 559.2 607.4C560.7 606.7 562.2 606.0 563.7 605.2C565.1 604.4 566.6 603.6 568.1 602.8C569.5 602.0 571.0 601.1 572.4 600.3C573.8 599.4 575.2 598.5 576.6 597.6C578.0 596.6 579.4 595.7 580.8 594.7C582.2 593.7 583.5 592.7 584.9 591.7C586.2 590.7 587.5 589.6 588.8 588.6C590.1 587.5 591.4 586.4 592.7 585.3C594.0 584.2 595.2 583.1 596.5 581.9C597.7 580.8 598.9 579.6 600.1 578.4C601.3 577.2 602.5 576.0 603.7 574.8C604.9 573.6 606.0 572.3 607.2 571.1C608.3 569.8 609.4 568.6 610.5 567.3C611.6 566.0 612.7 564.7 613.8 563.4C614.8 562.1 615.9 560.7 616.9 559.4C617.9 558.1 619.0 556.7 620.0 555.4C621.0 554.0 621.9 552.6 622.9 551.2C623.8 549.9 624.8 548.5 625.7 547.1C626.6 545.7 627.6 544.2 628.5 542.8C629.3 541.4 630.2 540.0 631.1 538.5C632.0 537.1 632.8 535.6 633.6 534.2C634.5 532.7 635.3 531.2 636.1 529.7C636.9 528.3 637.7 526.8 638.5 525.3C639.3 523.8 640.0 522.3 640.8 520.8C641.6 519.3 642.3 517.8 643.0 516.2C643.8 514.7 644.5 513.2 645.2 511.7C645.9 510.1 646.6 508.6 647.3 507.1C648.0 505.5 648.7 504.0 649.4 502.4C650.1 500.9 650.7 499.3 651.4 497.8C652.0 496.2 652.7 494.6 653.3 493.1C654.0 491.5 654.6 489.9 655.2 488.4C655.9 486.8 656.5 485.2 657.1 483.7C657.7 482.1 658.3 480.5 658.9 478.9C659.5 477.3 660.1 475.8 660.7 474.2C661.3 472.6 661.9 471.0 662.5 469.5C663.1 467.9 663.7 466.3 664.2 464.7C664.8 463.1 665.4 461.5 666.0 460.0C666.5 458.4 667.1 456.8 667.6 455.2C668.2 453.6 668.8 452.0 669.3 450.4C669.8 448.9 670.4 447.3 670.9 445.7C671.5 444.1 672.0 442.5 672.5 440.9C673.0 439.3 673.6 437.7 674.1 436.1C674.6 434.5 675.1 432.9 675.6 431.3C676.1 429.7 676.6 428.1 677.0 426.5C677.5 424.9 678.0 423.3 678.5 421.6C678.9 420.0 679.4 418.4 679.9 416.8C680.3 415.1 680.7 413.5 681.2 411.9C681.6 410.3 682.1 408.6 682.5 407.0C682.9 405.3 683.3 403.7 683.7 402.1C684.1 400.4 684.7 397.9 684.9 397.1" stroke="#000" stroke-width="4.2"/>
<path d="M374.0 627.0C374.8 626.9 377.4 626.8 379.1 626.6C380.8 626.3 382.5 626.0 384.1 625.7C385.8 625.4 387.5 625.0 389.1 624.6C390.8 624.2 392.4 623.8 394.1 623.3C395.7 622.9 397.4 622.5 399.0 622.1C400.7 621.6 402.3 621.2 404.0 620.9C405.6 620.5 407.3 620.2 408.9 619.9C410.6 619.6 412.3 619.3 414.0 619.1C415.6 618.9 417.3 618.7 419.0 618.5C420.7 618.4 422.4 618.2 424.1 618.1C425.8 617.9 427.5 617.8 429.2 617.7C430.9 617.6 432.6 617.5 434.3 617.4C436.0 617.3 437.7 617.2 439.4 617.1C441.1 617.0 442.8 616.8 444.5 616.7C446.1 616.6 447.8 616.4 449.5 616.2C451.2 616.1 452.9 615.9 454.6 615.6C456.3 615.4 458.0 615.2 459.7 614.9C461.4 614.7 463.1 614.4 464.7 614.1C466.4 613.8 468.1 613.5 469.8 613.2C471.5 612.9 473.2 612.7 474.8 612.3C476.5 612.0 478.1 611.6 479.8 611.1C481.4 610.7 483.0 610.1 484.5 609.5C486.1 608.8 487.5 608.0 489.0 607.1C490.5 606.3 492.0 605.4 493.4 604.5C494.9 603.6 496.3 602.6 497.8 601.7C499.2 600.8 500.7 600.0 502.2 599.2C503.6 598.3 505.1 597.5 506.6 596.8C508.1 596.0 509.6 595.3 511.2 594.6C512.7 593.9 514.2 593.2 515.8 592.6C517.4 592.0 518.9 591.4 520.5 590.9C522.1 590.3 523.8 589.8 525.4 589.4C527.0 588.9 528.7 588.5 530.3 588.1C532.0 587.7 533.6 587.3 535.3 586.9C537.0 586.5 538.7 586.2 540.4 585.9C542.0 585.5 543.7 585.2 545.4 584.8C547.1 584.5 548.8 584.1 550.5 583.8C552.2 583.4 553.8 583.1 555.5 582.7C557.2 582.3 558.8 581.9 560.5 581.4C562.1 581.0 563.7 580.5 565.3 580.0C566.9 579.5 568.5 578.9 570.1 578.3C571.7 577.7 573.2 577.1 574.7 576.4C576.2 575.6 577.7 574.9 579.2 574.1C580.7 573.2 582.1 572.4 583.5 571.5C584.9 570.6 586.3 569.6 587.7 568.6C589.1 567.6 590.5 566.6 591.8 565.5C593.2 564.5 594.5 563.4 595.8 562.3C597.1 561.2 598.5 560.1 599.8 558.9C601.1 557.8 602.3 556.6 603.6 555.5C604.9 554.3 606.2 553.1 607.5 552.0C608.7 550.8 610.0 549.6 611.3 548.4C612.5 547.3 613.8 546.1 615.1 545.0C616.3 543.8 617.6 542.7 618.9 541.5C620.1 540.4 621.4 539.3 622.7 538.2C624.0 537.0 625.3 535.9 626.6 534.9C627.9 533.8 629.2 532.7 630.5 531.7C631.8 530.6 633.1 529.6 634.5 528.6C635.8 527.6 637.2 526.6 638.6 525.6C639.9 524.7 641.3 523.7 642.7 522.8C644.2 521.9 645.6 521.0 647.0 520.2C648.5 519.3 650.0 518.5 651.5 517.7C653.0 516.9 654.5 516.2 656.1 515.5C657.6 514.7 659.2 514.1 660.8 513.4C662.4 512.7 664.0 512.1 665.6 511.5C667.3 510.9 668.9 510.3 670.5 509.8C672.2 509.2 673.8 508.7 675.4 508.1C677.0 507.6 678.7 507.1 680.3 506.6C681.9 506.0 684.2 505.3 685.0 505.0" stroke="#4daf4a" stroke-width="3.9" stroke-dasharray="6.4 14.37"/>
</g>
<rect x="115.3" y="28.3" width="143.2" height="88.7" fill="#fff" stroke="#777" stroke-width="1"/>
<path d="M121.0 42.3H170.2" stroke="#000" stroke-width="4.2" stroke-linecap="round" fill="none"/>
<text x="175.0" y="48.4" font-size="16">Reference</text>
<path d="M121.0 62.7H170.2" stroke="#e41a1c" stroke-width="3.8" stroke-linecap="round" fill="none"/>
<text x="175.0" y="68.8" font-size="16">Control</text>
<path d="M121.0 83.0H170.2" stroke="#377eb8" stroke-width="3.8" stroke-linecap="round" fill="none"/>
<text x="175.0" y="89.1" font-size="16">2%VC</text>
<path d="M121.0 103.4H170.2" stroke="#4daf4a" stroke-width="3.9" stroke-linecap="round" fill="none" stroke-dasharray="6.4 14.2"/>
<text x="175.0" y="109.5" font-size="16">Difference</text>
<rect x="426.3" y="27.7" width="138.7" height="88.8" fill="#fff" stroke="#777" stroke-width="1"/>
<path d="M432.2 41.7H480.6" stroke="#000" stroke-width="4.2" stroke-linecap="round" fill="none"/>
<text x="486.2" y="47.8" font-size="16">Reference</text>
<path d="M432.2 61.9H480.6" stroke="#e41a1c" stroke-width="3.8" stroke-linecap="round" fill="none"/>
<text x="486.2" y="68.0" font-size="16">Control</text>
<path d="M432.2 82.2H480.6" stroke="#377eb8" stroke-width="3.8" stroke-linecap="round" fill="none"/>
<text x="486.2" y="88.3" font-size="16">2%PDO</text>
<path d="M432.2 102.4H480.6" stroke="#4daf4a" stroke-width="3.9" stroke-linecap="round" fill="none" stroke-dasharray="6.4 14.2"/>
<text x="486.2" y="108.5" font-size="16">Difference</text>
<rect x="116.0" y="347.1" width="145.3" height="89.5" fill="#fff" stroke="#777" stroke-width="1"/>
<path d="M121.0 361.2H169.8" stroke="#000" stroke-width="4.2" stroke-linecap="round" fill="none"/>
<text x="175.2" y="367.3" font-size="16">Reference</text>
<path d="M121.0 381.8H169.8" stroke="#e41a1c" stroke-width="3.8" stroke-linecap="round" fill="none"/>
<text x="175.2" y="387.9" font-size="16">Control</text>
<path d="M121.0 402.2H169.8" stroke="#377eb8" stroke-width="3.8" stroke-linecap="round" fill="none"/>
<text x="175.2" y="408.3" font-size="16">2%pMODO</text>
<path d="M121.0 422.4H169.8" stroke="#4daf4a" stroke-width="3.9" stroke-linecap="round" fill="none" stroke-dasharray="6.4 14.2"/>
<text x="175.2" y="428.5" font-size="16">Difference</text>
<rect x="426.6" y="345.3" width="142.3" height="88.7" fill="#fff" stroke="#777" stroke-width="1"/>
<path d="M432.0 359.3H480.8" stroke="#000" stroke-width="4.2" stroke-linecap="round" fill="none"/>
<text x="486.5" y="365.4" font-size="16">Reference</text>
<path d="M432.0 379.8H480.8" stroke="#e41a1c" stroke-width="3.8" stroke-linecap="round" fill="none"/>
<text x="486.5" y="385.9" font-size="16">Control</text>
<path d="M432.0 400.1H480.8" stroke="#377eb8" stroke-width="3.8" stroke-linecap="round" fill="none"/>
<text x="486.5" y="406.2" font-size="16">2%pFDO</text>
<path d="M432.0 420.4H480.8" stroke="#4daf4a" stroke-width="3.9" stroke-linecap="round" fill="none" stroke-dasharray="6.4 14.2"/>
<text x="486.5" y="426.5" font-size="16">Difference</text>
<text x="84.2" y="150.1" font-size="17.95">One electron</text>
<text x="389.2" y="139.0" font-size="17.95">Two electrons</text>
<text x="388.4" y="224.3" font-size="17.95">One electron</text>
<text x="83.6" y="477.7" font-size="17.95">Two electrons</text>
<text x="83.4" y="551.4" font-size="17.95">One electron</text>
<text x="400.5" y="468.9" font-size="17.95">Two electrons</text>
<text x="400.8" y="545.6" font-size="17.95">One electron</text>
<text x="75.9" y="33.6" font-size="26">a)</text>
<text x="387.4" y="32.6" font-size="26">b)</text>
<text x="76.6" y="343.3" font-size="26">c)</text>
<text x="387.3" y="344.2" font-size="26">d)</text>
<text x="57.0" y="63.0" font-size="22" text-anchor="end">10</text>
<text x="57.0" y="192.9" font-size="22" text-anchor="end">5</text>
<text x="57.0" y="322.7" font-size="22" text-anchor="end">0</text>
<text x="57.0" y="374.6" font-size="22" text-anchor="end">10</text>
<text x="57.0" y="504.5" font-size="22" text-anchor="end">5</text>
<text x="57.0" y="635.3" font-size="22" text-anchor="end">0</text>
<text x="62.1" y="652.3" font-size="22" text-anchor="middle">2</text>
<text x="114.0" y="652.3" font-size="22" text-anchor="middle">2.2</text>
<text x="166.0" y="652.3" font-size="22" text-anchor="middle">2.4</text>
<text x="217.9" y="652.3" font-size="22" text-anchor="middle">2.6</text>
<text x="269.9" y="652.3" font-size="22" text-anchor="middle">2.8</text>
<text x="321.9" y="652.3" font-size="22" text-anchor="middle">3</text>
<text x="373.8" y="652.3" font-size="22" text-anchor="middle">2</text>
<text x="425.6" y="652.3" font-size="22" text-anchor="middle">2.2</text>
<text x="477.5" y="652.3" font-size="22" text-anchor="middle">2.4</text>
<text x="529.4" y="652.3" font-size="22" text-anchor="middle">2.6</text>
<text x="581.2" y="652.3" font-size="22" text-anchor="middle">2.8</text>
<text x="633.0" y="652.3" font-size="22" text-anchor="middle">3</text>
<text x="684.9" y="652.3" font-size="22" text-anchor="middle">3.2</text>
<text x="374.0" y="679.3" font-size="25.2" text-anchor="middle">Cell voltage (V)</text>
<text transform="translate(21.3 314.5) rotate(-90)" font-size="25.2" text-anchor="middle">Capacity (mAh)</text>
</svg></body></html>
